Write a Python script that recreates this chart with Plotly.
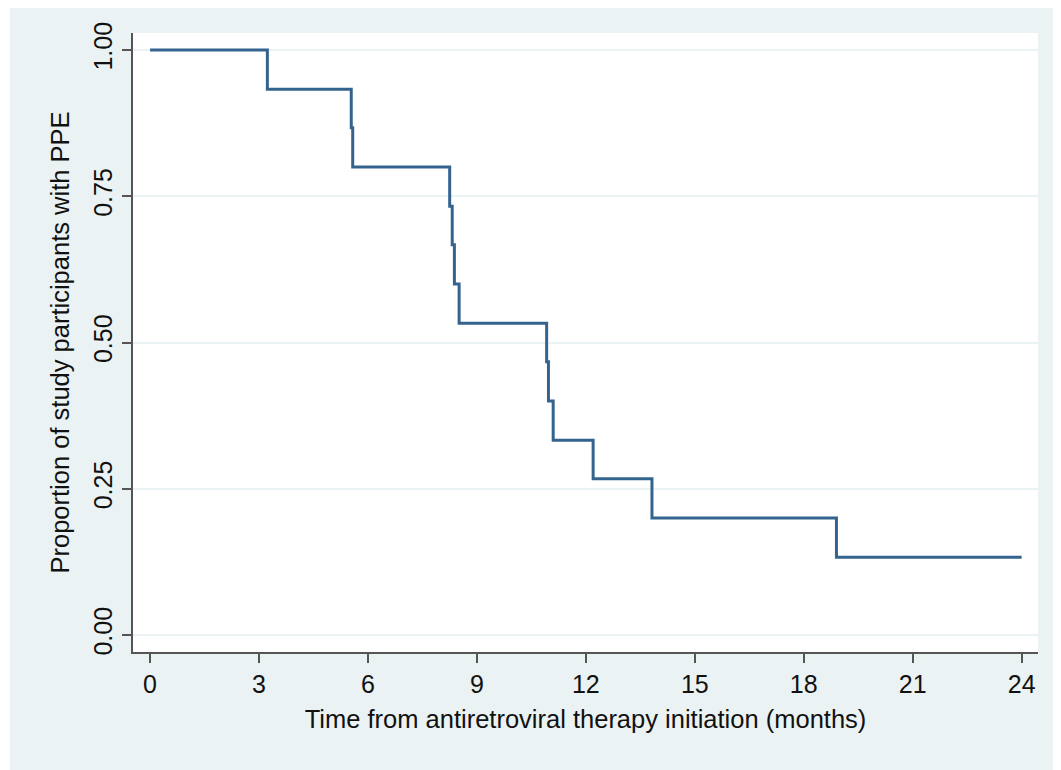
import plotly.graph_objects as go

# Kaplan-Meier step data
time_months = [0, 3.23, 5.54, 5.58, 8.25, 8.32, 8.38, 8.51, 10.92, 10.97, 11.10, 12.20, 13.82, 18.90, 24.0]
proportion = [1.0, 0.933, 0.867, 0.8, 0.733, 0.667, 0.6, 0.533, 0.467, 0.4, 0.333, 0.267, 0.2, 0.133, 0.133]

x_ticks = [0, 3, 6, 9, 12, 15, 18, 21, 24]
y_ticks = [0.0, 0.25, 0.5, 0.75, 1.0]
y_tick_labels = ["0.00", "0.25", "0.50", "0.75", "1.00"]

BG = "#EAF2F3"
LINE = "#34648E"
AXIS = "#555555"
FONT = "Liberation Sans, Arial, Helvetica, sans-serif"

fig = go.Figure()
fig.add_trace(go.Scatter(
    x=time_months, y=proportion, mode="lines",
    line=dict(shape="hv", color=LINE, width=3),
    showlegend=False, hoverinfo="x+y",
))

# page body has an 8px margin, so the figure is drawn 8px right/down
W, H = 1053, 762
L, R, T, B = 125, 23, 25, 118
pw, ph = W - L - R, H - T - B

fig.update_layout(
    width=W, height=H,
    margin=dict(l=L, r=R, t=T, b=B, pad=0),
    paper_bgcolor=BG,
    plot_bgcolor="white",
    font=dict(family=FONT, color="#111111", size=25),
    shapes=[
        dict(type="rect", xref="paper", yref="paper",
             x0=-L / pw - 0.01, x1=(2 - L) / pw,
             y0=-B / ph - 0.02, y1=(H - B) / ph + 0.02,
             fillcolor="white", line=dict(width=0), layer="below"),
    ],
    xaxis=dict(
        range=[-0.47, 24.45],
        tickvals=x_ticks, ticktext=[str(v) for v in x_ticks],
        ticks="outside", ticklen=9, tickwidth=1.5, tickcolor=AXIS,
        showline=True, linecolor=AXIS, linewidth=2,
        showgrid=False, zeroline=False,
        tickfont=dict(size=25),
        title=dict(text="Time from antiretroviral therapy initiation (months)",
                   font=dict(size=25.5), standoff=13),
    ),
    yaxis=dict(
        range=[-0.029, 1.029],
        tickvals=y_ticks, ticktext=y_tick_labels,
        tickangle=-90,
        ticks="outside", ticklen=9, tickwidth=1.5, tickcolor=AXIS,
        showline=True, linecolor=AXIS, linewidth=2,
        showgrid=True, gridcolor=BG, gridwidth=2,
        zeroline=False,
        tickfont=dict(size=25),
        title=dict(text="Proportion of study participants with PPE",
                   font=dict(size=25.5), standoff=12),
    ),
)

fig.write_html("out.html")
